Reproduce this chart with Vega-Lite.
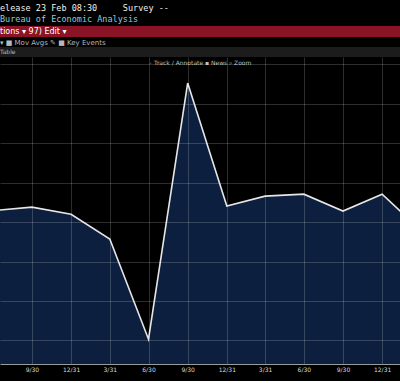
{
  "$schema": "https://vega.github.io/schema/vega-lite/v6.json",
  "background": "#000000",
  "padding": {"left": 0, "top": 4, "right": 0, "bottom": 9},
  "spacing": 0,
  "title": {
    "text": "elease 23 Feb 08:30\u00a0\u00a0\u00a0\u00a0\u00a0Survey --",
    "subtitle": "\u00a0\u00a0\u00a0\u00a0\u00a0\u00a0\u00a0\u00a0\u00a0Bureau of Economic Analysis",
    "anchor": "start",
    "font": "DejaVu Sans Mono",
    "fontSize": 8.5,
    "fontWeight": "normal",
    "color": "#f0f0f0",
    "subtitleFont": "DejaVu Sans Mono",
    "subtitleFontSize": 8.5,
    "subtitleColor": "#8ccbdc",
    "subtitlePadding": 2,
    "offset": 3
  },
  "config": {"view": {"stroke": null}},
  "vconcat": [
    {
      "width": 400,
      "height": 11,
      "view": {"fill": "#8b1326", "stroke": null},
      "data": {"values": []},
      "mark": "point",
      "title": {"text": "tions \u25be  97) Edit \u25be", "orient": "top", "anchor": "start", "offset": -10, "font": "DejaVu Sans", "fontSize": 8, "fontWeight": "normal", "color": "#ffffff"}
    },
    {
      "width": 400,
      "height": 10,
      "view": {"fill": "#000000", "stroke": null},
      "data": {"values": []},
      "mark": "point",
      "title": {"text": "\u00a0\u00a0\u00a0\u25be \u25a0 Mov Avgs \u270e \u25a0 Key Events", "orient": "top", "anchor": "start", "offset": -9, "font": "DejaVu Sans", "fontSize": 7, "fontWeight": "normal", "color": "#b8b8b8"}
    },
    {
      "width": 400,
      "height": 10,
      "view": {"fill": "#1c1c1c", "stroke": null},
      "data": {"values": []},
      "mark": "point",
      "title": {"text": "Table", "orient": "top", "anchor": "start", "offset": -8, "font": "DejaVu Sans", "fontSize": 6, "fontWeight": "normal", "color": "#bbbbbb"}
    },
    {
      "width": 400,
      "height": 307,
      "title": {"text": "\u25e6 Track   \u2215 Annotate   \u25aa News   \u2315 Zoom", "orient": "top", "anchor": "middle", "offset": -9, "font": "DejaVu Sans", "fontSize": 6, "fontWeight": "normal", "color": "#bdbdbd"},
      "data": {"values": [
        {"date": "2019-06-30", "value": 2.9},
        {"date": "2019-09-30", "value": 3.8},
        {"date": "2019-12-31", "value": 2.0},
        {"date": "2020-03-31", "value": -4.3},
        {"date": "2020-06-30", "value": -29.7},
        {"date": "2020-09-30", "value": 35.3},
        {"date": "2020-12-31", "value": 4.1},
        {"date": "2021-03-31", "value": 6.6},
        {"date": "2021-06-30", "value": 7.1},
        {"date": "2021-09-30", "value": 2.8},
        {"date": "2021-12-31", "value": 7.1},
        {"date": "2022-03-31", "value": -2.0}
      ]},
      "encoding": {
        "x": {
          "field": "date",
          "type": "temporal",
          "scale": {"type": "utc", "domain": [{"year": 2019, "month": 7, "date": 17, "utc": true}, {"year": 2022, "month": 2, "date": 11, "utc": true}]},
          "axis": {
            "values": [
              {"year": 2019, "month": 9, "date": 30, "utc": true},
              {"year": 2019, "month": 12, "date": 31, "utc": true},
              {"year": 2020, "month": 3, "date": 31, "utc": true},
              {"year": 2020, "month": 6, "date": 30, "utc": true},
              {"year": 2020, "month": 9, "date": 30, "utc": true},
              {"year": 2020, "month": 12, "date": 31, "utc": true},
              {"year": 2021, "month": 3, "date": 31, "utc": true},
              {"year": 2021, "month": 6, "date": 30, "utc": true},
              {"year": 2021, "month": 9, "date": 30, "utc": true},
              {"year": 2021, "month": 12, "date": 31, "utc": true}
            ],
            "format": "%-m/%d",
            "labelFont": "DejaVu Sans",
            "labelFontSize": 6,
            "labelColor": "#d8d8d8",
            "labelPadding": 2,
            "labelOverlap": false,
            "labelFlush": false,
            "ticks": false,
            "domainColor": "#9a9a9a",
            "domainWidth": 1,
            "gridColor": "#ffffff",
            "gridOpacity": 0.18,
            "gridWidth": 1,
            "title": null,
            "zindex": 1
          }
        },
        "y": {
          "field": "value",
          "type": "quantitative",
          "scale": {"domain": [-36, 41.9], "nice": false, "zero": false},
          "axis": {
            "values": [-30, -20, -10, 0, 10, 20, 30, 40],
            "labels": false,
            "ticks": false,
            "domain": false,
            "title": null,
            "gridColor": "#ffffff",
            "gridOpacity": 0.18,
            "zindex": 1
          }
        }
      },
      "layer": [
        {"mark": {"type": "area", "color": "#0c1f3e", "opacity": 1, "clip": true}, "encoding": {"y2": {"datum": -36}}},
        {"mark": {"type": "line", "color": "#e6e6e6", "strokeWidth": 1.6, "clip": true}}
      ]
    }
  ]
}
